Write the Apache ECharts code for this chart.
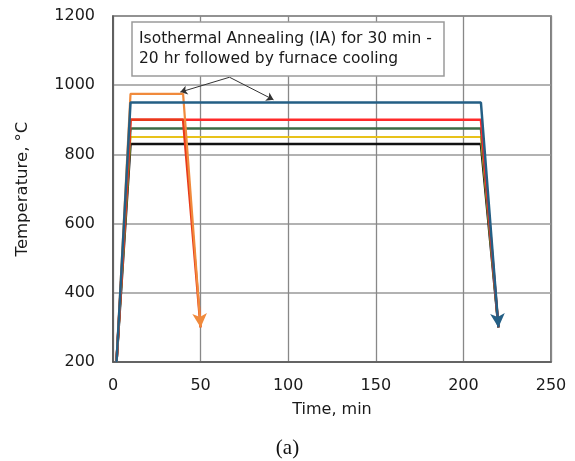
<!DOCTYPE html>
<html><head><meta charset="utf-8">
<script src="https://cdn.jsdelivr.net/npm/echarts@6/dist/echarts.min.js"></script>
<style>html,body{margin:0;padding:0;background:#fff}#c{width:575px;height:461px}</style>
</head><body><div id="c"></div>
<script>
const xTicks = [0, 50, 100, 150, 200, 250];
const yTicks = [200, 400, 600, 800, 1000, 1200];
const longTimes = [2, 10, 210, 220];
const shortTimes = [2, 10, 40, 50];
const blueTemps = [200, 950, 950, 300];
const redTemps = [200, 900, 900, 300];
const greenTemps = [200, 875, 875, 300];
const yellowTemps = [200, 850, 850, 300];
const blackTemps = [200, 830, 830, 300];
const orangeShortTemps = [200, 975, 975, 300];
const redShortTemps = [200, 900, 900, 300];
const noteText = 'Isothermal Annealing (IA) for 30 min -\n20 hr followed by furnace cooling';
const noteFrom = [66.5, 1023];
const noteTargets = [[38.4, 980], [91.6, 958]];
const FONT = 'DejaVu Sans, Liberation Sans, Arial, sans-serif';

function pts(times, temps, arrow) {
  return times.map((t, i) => {
    const item = { value: [t, temps[i]] };
    if (arrow && i === times.length - 1) {
      item.symbol = 'arrow';
      item.symbolSize = [11, 14];
      item.symbolRotate = 184;
    }
    return item;
  });
}
function ser(name, times, temps, color, width, arrow, z) {
  return {
    name, type: 'line', data: pts(times, temps, arrow), z: z,
    symbol: 'none', showSymbol: true, animation: false,
    lineStyle: { color, width }, itemStyle: { color }
  };
}
const series = [
  ser('black', longTimes, blackTemps, '#111111', 2.5, false, 2),
  ser('yellow', longTimes, yellowTemps, '#e8c21a', 2, false, 3),
  ser('green', longTimes, greenTemps, '#3d6b45', 2.5, false, 4),
  ser('red', longTimes, redTemps, '#ff2a2a', 2.5, false, 5),
  ser('redShort', shortTimes, redShortTemps, '#e83a1a', 2.5, false, 5),
  ser('orange', shortTimes, orangeShortTemps, '#f08a3c', 2.2, true, 6),
  ser('blue', longTimes, blueTemps, '#245f85', 2.5, true, 7)
];
series[0].markLine = {
  silent: true, animation: false,
  symbol: ['none', 'arrow'], symbolSize: 7,
  label: { show: false },
  lineStyle: { color: '#333', width: 1, type: 'solid' },
  data: noteTargets.map(t => [{ coord: noteFrom }, { coord: t }])
};

const chart = echarts.init(document.getElementById('c'));
chart.setOption({
  animation: false,
  backgroundColor: '#fff',
  textStyle: { fontFamily: FONT },
  title: [
    { text: noteText, left: 132, top: 22, padding: [7, 12, 7, 7],
      borderColor: '#9a9a9a', borderWidth: 1.5, backgroundColor: '#fff',
      textStyle: { fontSize: 15.5, fontWeight: 'normal', color: '#1a1a1a', lineHeight: 20, fontFamily: FONT } },
    { text: '(a)', left: 'center', top: 433,
      textStyle: { fontSize: 21, fontWeight: 'normal', color: '#111', fontFamily: 'Liberation Serif, Times New Roman, serif' } }
  ],
  grid: { left: 113, right: 24, top: 16, bottom: 99, show: true, borderColor: '#555', borderWidth: 1.5, containLabel: false },
  xAxis: {
    type: 'value', min: xTicks[0], max: xTicks[xTicks.length - 1], interval: 50,
    name: 'Time, min', nameLocation: 'middle', nameGap: 40,
    nameTextStyle: { fontSize: 16, color: '#1a1a1a', fontFamily: FONT },
    axisLine: { show: true, lineStyle: { color: '#555', width: 1.5 } },
    axisTick: { show: false },
    axisLabel: { fontSize: 16, color: '#1a1a1a', margin: 16, fontFamily: FONT, formatter: v => String(v) },
    splitLine: { show: true, lineStyle: { color: '#888', width: 1.3 } }
  },
  yAxis: {
    type: 'value', min: yTicks[0], max: yTicks[yTicks.length - 1], interval: 200,
    name: 'Temperature, °C', nameLocation: 'middle', nameGap: 82,
    nameTextStyle: { fontSize: 16.5, color: '#1a1a1a', fontFamily: FONT },
    axisLine: { show: true, lineStyle: { color: '#555', width: 1.5 } },
    axisTick: { show: false },
    axisLabel: { fontSize: 16, color: '#1a1a1a', margin: 18, fontFamily: FONT, formatter: v => String(v) },
    splitLine: { show: true, lineStyle: { color: '#999', width: 1.5 } }
  },
  series
});
</script></body></html>
